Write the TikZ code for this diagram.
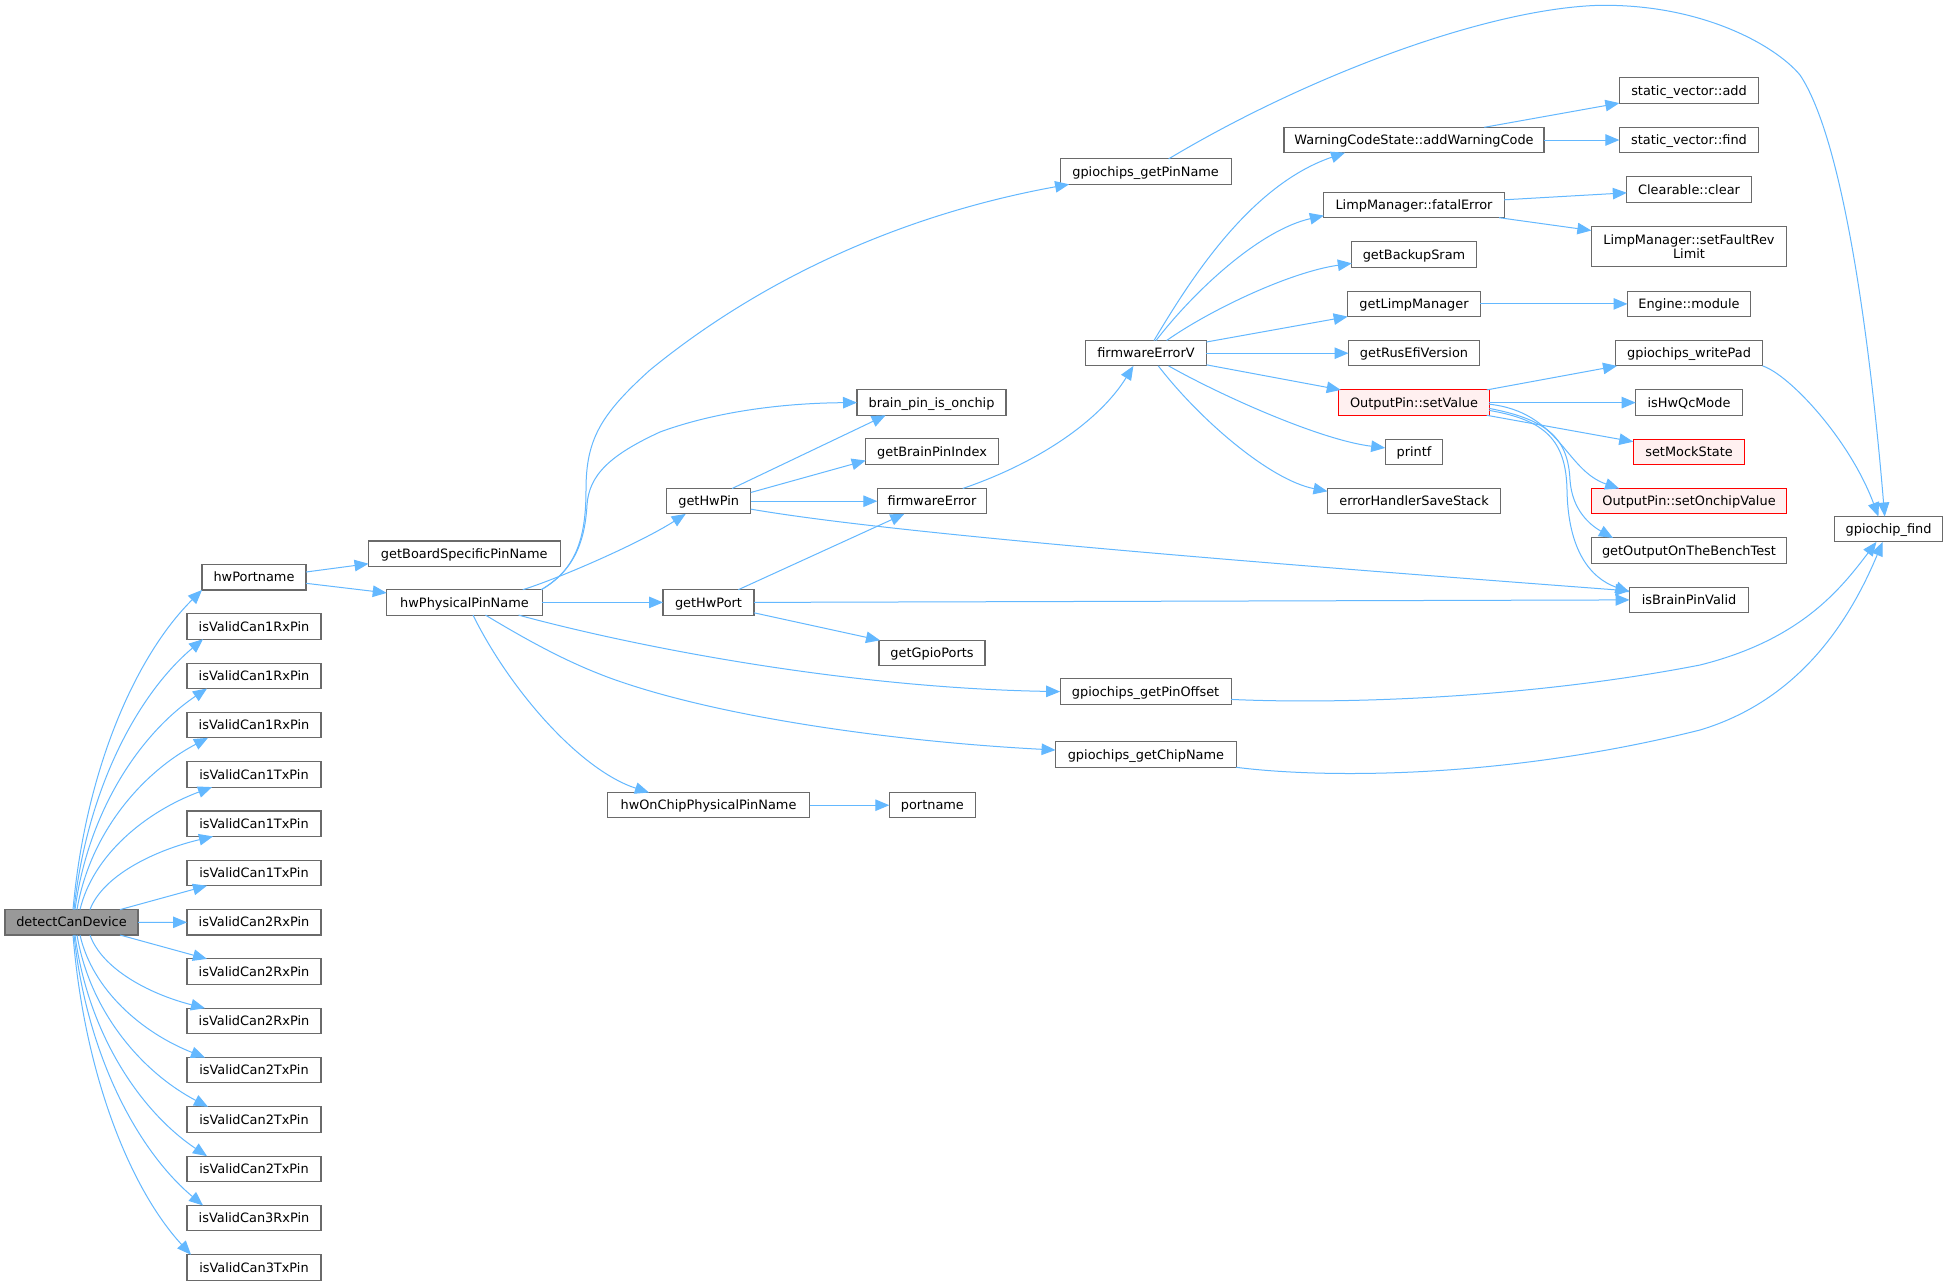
\documentclass[tikz,border=0pt]{standalone}
\usepackage{fontspec}
\setmainfont{DejaVu Sans}
\usetikzlibrary{arrows.meta}
\definecolor{edgeblue}{HTML}{63B8FF}
\definecolor{nodegray}{HTML}{6A6A6A}
\definecolor{rootfill}{HTML}{999999}
\definecolor{redfill}{HTML}{FFF0F0}
\begin{document}
\begin{tikzpicture}[x=1pt,y=-1pt,
  fn/.style={draw=nodegray, line width=1.05pt, fill=white, rectangle, inner sep=0pt, outer sep=0pt,
    minimum height=25.4pt, text height=12.4pt, text depth=3.2pt, font=\fontsize{12.9}{14.1}\selectfont},
  root/.style={fn, fill=rootfill},
  redfn/.style={fn, draw=red, fill=redfill},
  cgedge/.style={draw=edgeblue, line width=1pt, -{Triangle[length=14pt,width=11.5pt]}},
]
\useasboundingbox[fill=white] (0,0) rectangle (1948,1286);

% ---- nodes ----
\node[root, minimum width=133pt] (dcd) at (71.5,922.3) {detectCanDevice};
\node[fn, minimum width=104pt] (hwpn) at (254,577.3) {hwPortname};
\foreach \k/\lab in {0/isValidCan1RxPin,1/isValidCan1RxPin,2/isValidCan1RxPin,
  3/isValidCan1TxPin,4/isValidCan1TxPin,5/isValidCan1TxPin,
  6/isValidCan2RxPin,7/isValidCan2RxPin,8/isValidCan2RxPin,
  9/isValidCan2TxPin,10/isValidCan2TxPin,11/isValidCan2TxPin,
  12/isValidCan3RxPin,13/isValidCan3TxPin}{
  \node[fn, minimum width=134pt] (v\k) at (254,{626.5+49.3*\k}) {\lab};
}
\node[fn, minimum width=191.5pt] (gbs) at (464.3,553.7) {getBoardSpecificPinName};
\node[fn, minimum width=155.5pt] (hppn) at (464.5,602.4) {hwPhysicalPinName};
\node[fn, minimum width=171pt] (gpn) at (1145.6,171.6) {gpiochips\_getPinName};
\node[fn, minimum width=149pt] (bpio) at (931.5,402.6) {brain\_pin\_is\_onchip};
\node[fn, minimum width=132.6pt] (gbpi) at (932,451.5) {getBrainPinIndex};
\node[fn, minimum width=109.4pt] (fe) at (932,501.2) {firmwareError};
\node[fn, minimum width=106pt] (ggp) at (932,653) {getGpioPorts};
\node[fn, minimum width=84pt] (hwp) at (708.7,501.2) {getHwPin};
\node[fn, minimum width=91pt] (hwport) at (708.5,602.4) {getHwPort};
\node[fn, minimum width=202.3pt] (hocp) at (708.5,805.2) {hwOnChipPhysicalPinName};
\node[fn, minimum width=86.2pt] (portname) at (932.4,805.2) {portname};
\node[fn, minimum width=171pt] (gpo) at (1145.6,691.6) {gpiochips\_getPinOffset};
\node[fn, minimum width=180.7pt] (gcn) at (1145.9,754.6) {gpiochips\_getChipName};
\node[fn, minimum width=120.7pt] (fev) at (1146,353.2) {firmwareErrorV};
\node[fn, minimum width=260pt] (wcs) at (1414,140) {WarningCodeState::addWarningCode};
\node[fn, minimum width=180.3pt] (lmfe) at (1414,205) {LimpManager::fatalError};
\node[fn, minimum width=124.4pt] (gbs2) at (1414,254.4) {getBackupSram};
\node[fn, minimum width=132.7pt] (glm) at (1414,303.9) {getLimpManager};
\node[fn, minimum width=131pt] (grev) at (1414,353.2) {getRusEfiVersion};
\node[redfn, minimum width=150.5pt] (osv) at (1414,402.6) {OutputPin::setValue};
\node[fn, minimum width=57.6pt] (printf) at (1414,451.9) {printf};
\node[fn, minimum width=173pt] (ehss) at (1414,501.2) {errorHandlerSaveStack};
\node[fn, minimum width=139.3pt] (sva) at (1689,90.4) {static\_vector::add};
\node[fn, minimum width=139.3pt] (svf) at (1689,140) {static\_vector::find};
\node[fn, minimum width=124.4pt] (cc) at (1689,189.5) {Clearable::clear};
\node[fn, minimum width=195.3pt, minimum height=40.2pt, align=center, text height=, text depth=] (sfrl) at (1689,246.5) {LimpManager::setFaultRev\\Limit};
\node[fn, minimum width=123pt] (em) at (1689,303.9) {Engine::module};
\node[fn, minimum width=147.2pt] (gwp) at (1689,353.2) {gpiochips\_writePad};
\node[fn, minimum width=106.6pt] (hqc) at (1689,402.6) {isHwQcMode};
\node[redfn, minimum width=111.5pt] (sms) at (1689,451.9) {setMockState};
\node[redfn, minimum width=195.3pt] (osov) at (1689,501.2) {OutputPin::setOnchipValue};
\node[fn, minimum width=195.3pt] (gob) at (1689,550.6) {getOutputOnTheBenchTest};
\node[fn, minimum width=119pt] (ibpv) at (1689,599.9) {isBrainPinValid};
\node[fn, minimum width=108.2pt] (gcf) at (1888.6,529.2) {gpiochip\_find};

% ---- edges from detectCanDevice ----
\draw[cgedge] ([xshift=68pt]dcd.north west) .. controls (85.9,766) and (137.4,654) .. (hwpn.south west);
\foreach \k/\xs/\xe in {0/74/203, 1/75/207, 2/77/208, 3/80/212, 4/90/213}{
  \pgfmathsetmacro\ye{626.5+49.3*\k+12.7}
  \pgfmathsetmacro\ax{\xs+0.1*(\xe-\xs)}
  \pgfmathsetmacro\ay{910-0.45*(910-\ye)}
  \pgfmathsetmacro\bx{\xs+0.5*(\xe-\xs)}
  \pgfmathsetmacro\by{\ye+0.2*(910-\ye)}
  \pgfmathsetmacro\ss{\xs-5}
  \pgfmathsetmacro\es{\xe-187}
  \draw[cgedge] ([xshift=\ss pt]dcd.north west) .. controls (\ax,\ay) and (\bx,\by) .. ([xshift=\es pt]v\k.south west);
}
\draw[cgedge] ([xshift=115pt]dcd.north west) -- ([xshift=20pt]v5.south west);
\draw[cgedge] (dcd.east) -- (v6.west);
\draw[cgedge] ([xshift=115pt]dcd.south west) -- ([xshift=20pt]v7.north west);
\foreach \k/\xs/\xe in {8/90/205, 9/80/205, 10/77/208, 11/75/207, 12/74/203, 13/73/191}{
  \pgfmathsetmacro\ye{626.5+49.3*\k-12.7}
  \pgfmathsetmacro\ax{\xs+0.1*(\xe-\xs)}
  \pgfmathsetmacro\ay{935+0.45*(\ye-935)}
  \pgfmathsetmacro\bx{\xs+0.5*(\xe-\xs)}
  \pgfmathsetmacro\by{\ye-0.2*(\ye-935)}
  \pgfmathsetmacro\ss{\xs-5}
  \pgfmathsetmacro\es{\xe-187}
  \draw[cgedge] ([xshift=\ss pt]dcd.south west) .. controls (\ax,\ay) and (\bx,\by) .. ([xshift=\es pt]v\k.north west);
}

% ---- other edges ----
\draw[cgedge] ([yshift=5.3pt]hwpn.east) -- ([yshift=-10pt]gbs.west);
\draw[cgedge] ([yshift=-6pt]hwpn.east) -- ([yshift=9.5pt]hppn.west);
\draw[cgedge] ([xshift=-1pt]hppn.north east) .. controls (575,570) and (586,540) .. (586,490)
  .. controls (586,440) and (600,415) .. (650,370) .. controls (760,280) and (900,215) .. ([xshift=9pt]gpn.south west);
\draw[cgedge] ([xshift=-1pt]hppn.north east) .. controls (575,570) and (585,540) .. (587,505)
  .. controls (589,475) and (610,455) .. (660,432) .. controls (720,410) and (790,403) .. (bpio.west);
\draw[cgedge] ([xshift=-19.5pt]hppn.north east) .. controls (560,578) and (640,543) .. ([xshift=19pt]hwp.south west);
\draw[cgedge] (hppn.east) -- (hwport.west);
\draw[cgedge] ([xshift=-23.7pt]hppn.south east) .. controls (640,648) and (850,688) .. (gpo.west);
\draw[cgedge] ([xshift=21pt]hppn.south) .. controls (540,648) and (575,665) .. (610,678)
  .. controls (720,718) and (900,742) .. ([yshift=4.6pt]gcn.west);
\draw[cgedge] ([xshift=8.5pt]hppn.south) .. controls (510,690) and (580,770) .. ([xshift=41.6pt]hocp.north west);
\draw[cgedge] (hocp.east) -- (portname.west);
\draw[cgedge] ([xshift=-18.6pt]hwp.north east) -- ([xshift=28.6pt]bpio.south west);
\draw[cgedge] ([yshift=8.7pt]hwp.east) -- ([yshift=-9pt]gbpi.west);
\draw[cgedge] (hwp.east) -- (fe.west);
\draw[cgedge] ([yshift=-7.9pt]hwp.east) .. controls (900,535) and (1300,566) .. ([yshift=9pt]ibpv.west);
\draw[cgedge] ([xshift=-15.7pt]hwport.north east) -- ([xshift=27pt]fe.south west);
\draw[cgedge] (hwport.east) -- (ibpv.west);
\draw[cgedge] ([yshift=-10.4pt]hwport.east) -- ([xshift=1pt]ggp.north west);
\draw[cgedge] ([xshift=-24pt]fe.north east) .. controls (1040,462) and (1100,420) .. ([xshift=-12.6pt]fev.south);
\draw[cgedge] ([xshift=8pt]fev.north) .. controls (1190,280) and (1250,185) .. ([xshift=61pt]wcs.south west);
\draw[cgedge] ([xshift=10pt]fev.north) .. controls (1195,290) and (1260,230) .. ([yshift=-10.6pt]lmfe.west);
\draw[cgedge] ([xshift=20.6pt]fev.north) .. controls (1210,310) and (1290,272) .. ([yshift=-8.9pt]gbs2.west);
\draw[cgedge] ([yshift=11.2pt]fev.east) -- (glm.south west);
\draw[cgedge] (fev.east) -- (grev.west);
\draw[cgedge] ([yshift=-11.6pt]fev.east) -- ([xshift=2pt]osv.north west);
\draw[cgedge] ([xshift=22.6pt]fev.south) .. controls (1220,395) and (1320,440) .. ([yshift=4pt]printf.west);
\draw[cgedge] ([xshift=12.3pt]fev.south) .. controls (1200,420) and (1270,480) .. ([yshift=9.9pt]ehss.west);
\draw[cgedge] ([xshift=23pt]gpn.north) .. controls (1300,80) and (1480,10) .. (1596.5,5.4)
  .. controls (1700,3) and (1775,45) .. (1800,75) .. controls (1850,150) and (1875,400) .. ([xshift=-3.9pt]gcf.north);
\draw[cgedge] ([xshift=-59.7pt]wcs.north east) -- (sva.south west);
\draw[cgedge] (wcs.east) -- (svf.west);
\draw[cgedge] ([yshift=5.2pt]lmfe.east) -- ([yshift=-3.3pt]cc.west);
\draw[cgedge] ([xshift=-5pt]lmfe.south east) -- ([yshift=-4.1pt]sfrl.north west);
\draw[cgedge] (glm.east) -- (em.west);
\draw[cgedge] ([xshift=-2.5pt]osv.north east) -- ([xshift=1.6pt]gwp.south west);
\draw[cgedge] (osv.east) -- (hqc.west);
\draw[cgedge] ([xshift=-2.5pt]osv.south east) -- ([yshift=-2.5pt]sms.north west);
\draw[cgedge] ([yshift=-1.6pt]osv.east) .. controls (1560,412) and (1565,470) .. ([xshift=27.8pt]osov.north west);
\draw[cgedge] ([yshift=-5.8pt]osv.east) .. controls (1550,420) and (1568,440) .. (1570,480)
  .. controls (1572,510) and (1590,525) .. ([xshift=21.6pt]gob.north west);
\draw[cgedge] ([yshift=-7.8pt]osv.east) .. controls (1545,420) and (1566,440) .. (1567,490)
  .. controls (1568,550) and (1590,578) .. ([yshift=7.9pt]ibpv.west);
\draw[cgedge] (gwp.south east) .. controls (1790,375) and (1850,440) .. ([xshift=-10.2pt]gcf.north);
\draw[cgedge] ([yshift=-7.8pt]gpo.east) .. controls (1330,704) and (1520,700) .. (1700,665)
  .. controls (1800,640) and (1840,590) .. ([xshift=-12.2pt]gcf.south);
\draw[cgedge] (gcn.south east) .. controls (1320,778) and (1500,780) .. (1700,730)
  .. controls (1800,700) and (1850,620) .. ([xshift=-6pt]gcf.south);
\end{tikzpicture}
\end{document}
